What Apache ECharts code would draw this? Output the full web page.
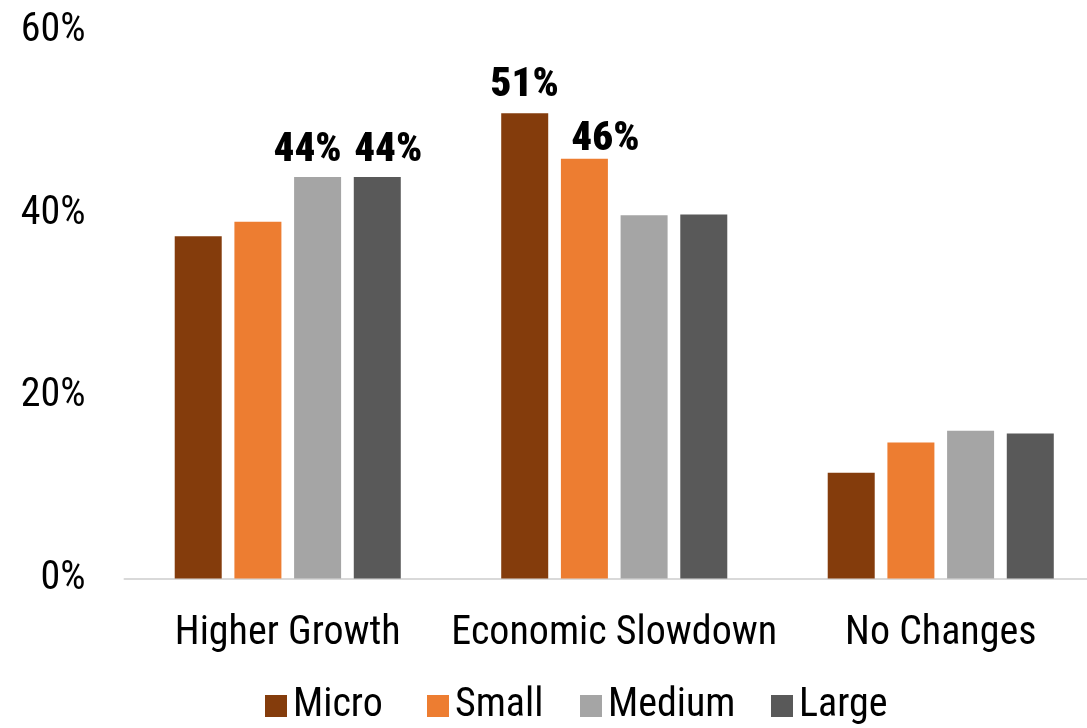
<!DOCTYPE html>
<html>
<head>
<meta charset="utf-8">
<script src="https://cdn.jsdelivr.net/npm/echarts@6/dist/echarts.min.js"></script>
<style>
  html, body { margin: 0; padding: 0; background: #fff; }
  #chart { width: 1087px; height: 728px; }
</style>
</head>
<body>
<div id="chart"></div>
<script>
// Expected business outlook by company size (share of respondents, %)
const categories = ['Higher Growth', 'Economic Slowdown', 'No Changes'];
const seriesNames = ['Micro', 'Small', 'Medium', 'Large'];
const micro  = [37.5, 51, 11.6];
const small  = [39.1, 46, 14.9];
const medium = [44, 39.8, 16.2];
const large  = [44, 39.9, 15.9];
const yTicks = [0, 20, 40, 60];

// Which values carry a bold value label: [series index, category index]
const labelled = [[2, 0], [3, 0], [0, 1], [1, 1]];

const FONT = '"Roboto Condensed", "Liberation Sans", Arial, sans-serif';
const colors = ['#843C0C', '#ED7D31', '#A5A5A5', '#595959'];
const values = [micro, small, medium, large];

// Nudges so neighbouring labels don't collide
const labelShift = { '2-0': [-10, 6], '3-0': [11, 6], '0-1': [0, 5], '1-1': [21, 13] };

function buildData(si) {
  return values[si].map((v, ci) => {
    const isLab = labelled.some(p => p[0] === si && p[1] === ci);
    if (!isLab) return v;
    return {
      value: v,
      label: {
        show: true,
        position: 'top',
        distance: 12,
        offset: labelShift[si + '-' + ci] || [0, 0],
        formatter: '{c}%',
        fontFamily: FONT,
        fontWeight: 900,
        fontSize: 41,
        color: '#000'
      }
    };
  });
}

const legendLeft = [260, 422, 575, 766];

const chart = echarts.init(document.getElementById('chart'), null, { renderer: 'canvas' });
chart.setOption({
  animation: false,
  backgroundColor: '#ffffff',
  color: colors,
  grid: { left: 124.5, right: -17, top: 31, bottom: 149.5, containLabel: false, outerBoundsMode: 'none' },
  legend: seriesNames.map((n, i) => ({
    data: [n],
    left: legendLeft[i],
    top: 681,
    itemWidth: 22,
    itemHeight: 22,
    icon: 'rect',
    selectedMode: false,
    textStyle: { fontFamily: FONT, fontSize: 40, color: '#000', padding: [0, 0, 0, 1] }
  })),
  xAxis: {
    type: 'category',
    data: categories,
    axisLine: { show: true, lineStyle: { color: '#d9d9d9', width: 2 } },
    axisTick: { show: false },
    axisLabel: { fontFamily: FONT, fontSize: 40, color: '#000', margin: 35, interval: 0 }
  },
  yAxis: {
    type: 'value',
    min: yTicks[0],
    max: yTicks[yTicks.length - 1],
    interval: yTicks[1] - yTicks[0],
    axisLine: { show: false },
    axisTick: { show: false },
    splitLine: { show: false },
    axisLabel: { fontFamily: FONT, fontSize: 40, color: '#000', margin: 39, formatter: '{value}%' }
  },
  series: seriesNames.map((n, i) => ({
    name: n,
    type: 'bar',
    barWidth: 47,
    barGap: '27%',
    data: buildData(i),
    itemStyle: { color: colors[i] }
  }))
});
</script>
</body>
</html>
